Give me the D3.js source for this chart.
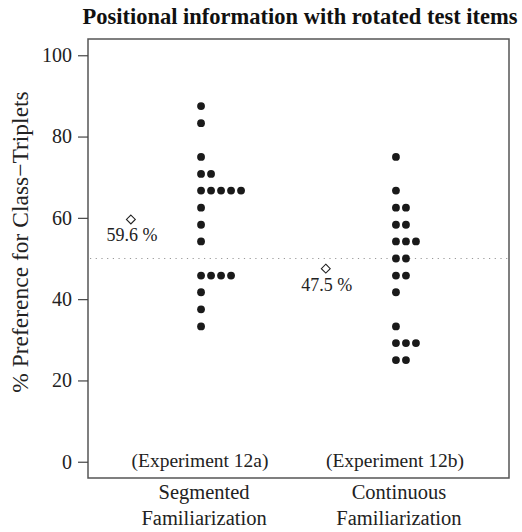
<!DOCTYPE html>
<html>
<head>
<meta charset="utf-8">
<script src="https://d3js.org/d3.v7.min.js"></script>
<style>
  body { margin: 0; background: #fff; }
  svg { font-family: "Liberation Serif", "DejaVu Serif", serif; }
  .tick text { fill: #222; }
</style>
</head>
<body>
<div id="chart"></div>
<script>
// % preference for class-triplets, one value per participant
var segmented = [87.5, 83.3, 75, 70.8, 70.8, 66.7, 66.7, 66.7, 66.7, 66.7,
                 62.5, 58.3, 54.2, 45.8, 45.8, 45.8, 45.8, 41.7, 37.5, 33.3];
var continuous = [75, 66.7, 62.5, 62.5, 58.3, 58.3, 54.2, 54.2, 54.2, 50, 50,
                  45.8, 45.8, 41.7, 33.3, 29.2, 29.2, 29.2, 25, 25];
var groupLabels = [["Segmented", "Familiarization"], ["Continuous", "Familiarization"]];
var experiments = ["(Experiment 12a)", "(Experiment 12b)"];
var means = [59.6, 47.5];
var meanLabels = ["59.6 %", "47.5 %"];
var yTicks = [0, 20, 40, 60, 80, 100];
var chance = 50;

var W = 522, H = 532;
var margin = {top: 39, right: 13, bottom: 54, left: 88};

var svg = d3.select("#chart").append("svg")
  .attr("width", W).attr("height", H);

// R style axis extension (4%)
var x = d3.scaleLinear().domain([0.42, 2.58]).range([margin.left, W - margin.right]);
var y = d3.scaleLinear().domain([-4, 104]).range([H - margin.bottom, margin.top]);

// title
svg.append("text")
  .attr("x", 300)
  .attr("y", 24)
  .attr("text-anchor", "middle")
  .attr("font-weight", "bold")
  .attr("font-size", 22.5)
  .attr("fill", "#111")
  .text("Positional information with rotated test items");

// chance line
svg.append("line")
  .attr("x1", x(0.42) + 2).attr("x2", x(2.58) - 1)
  .attr("y1", y(chance)).attr("y2", y(chance))
  .attr("stroke", "#999").attr("stroke-width", 1)
  .attr("stroke-dasharray", "1.2,4.5");

// box
svg.append("rect")
  .attr("x", margin.left).attr("y", margin.top)
  .attr("width", W - margin.left - margin.right)
  .attr("height", H - margin.top - margin.bottom)
  .attr("fill", "none").attr("stroke", "#555").attr("stroke-width", 1.5);

// y axis
var yAxis = svg.append("g")
  .attr("transform", "translate(" + margin.left + ",0)")
  .call(d3.axisLeft(y).tickValues(yTicks).tickSize(10).tickPadding(6));
yAxis.select(".domain").remove();
yAxis.selectAll(".tick line").attr("stroke", "#444").attr("stroke-width", 1.2);
yAxis.selectAll(".tick text").attr("font-size", 20).attr("font-family", "Liberation Serif");

svg.append("text")
  .attr("transform", "translate(28," + 242 + ") rotate(-90)")
  .attr("text-anchor", "middle")
  .attr("font-size", 23.5)
  .attr("fill", "#222")
  .text("% Preference for Class\u2212Triplets");

// dots, stacked sideways when values repeat
var groups = [segmented, continuous];
var step = 10;
groups.forEach(function(vals, gi) {
  var seen = {};
  var pts = vals.map(function(v) {
    var k = v.toFixed(1);
    seen[k] = (seen[k] || 0) + 1;
    return {v: v, i: seen[k] - 1};
  });
  svg.append("g").selectAll("circle")
    .data(pts).enter().append("circle")
    .attr("cx", function(d) { return x(gi + 1) + d.i * step; })
    .attr("cy", function(d) { return y(d.v); })
    .attr("r", 3.9)
    .attr("fill", "#1a1a1a");
});

// group means
var diamond = d3.symbol().type(d3.symbolDiamond2).size(50);
means.forEach(function(m, gi) {
  var mx = x(gi + 1 - 0.36);
  svg.append("path")
    .attr("d", diamond)
    .attr("transform", "translate(" + mx + "," + y(m) + ")")
    .attr("fill", "none").attr("stroke", "#222").attr("stroke-width", 1.1);
  svg.append("text")
    .attr("x", mx + 1).attr("y", y(m) + 22)
    .attr("text-anchor", "middle")
    .attr("font-size", 18)
    .attr("fill", "#222")
    .text(meanLabels[gi]);
});

// experiment labels inside the plot
experiments.forEach(function(t, gi) {
  svg.append("text")
    .attr("x", x(gi + 1) - 1).attr("y", 467)
    .attr("text-anchor", "middle")
    .attr("font-size", 19.5)
    .attr("fill", "#222")
    .text(t);
});

// category labels below
groupLabels.forEach(function(lines, gi) {
  var t = svg.append("text")
    .attr("text-anchor", "middle")
    .attr("font-size", 20.5)
    .attr("fill", "#222");
  lines.forEach(function(s, li) {
    t.append("tspan")
      .attr("x", x(gi + 1) + 3)
      .attr("y", 499 + li * 26)
      .text(s);
  });
});
</script>
</body>
</html>
